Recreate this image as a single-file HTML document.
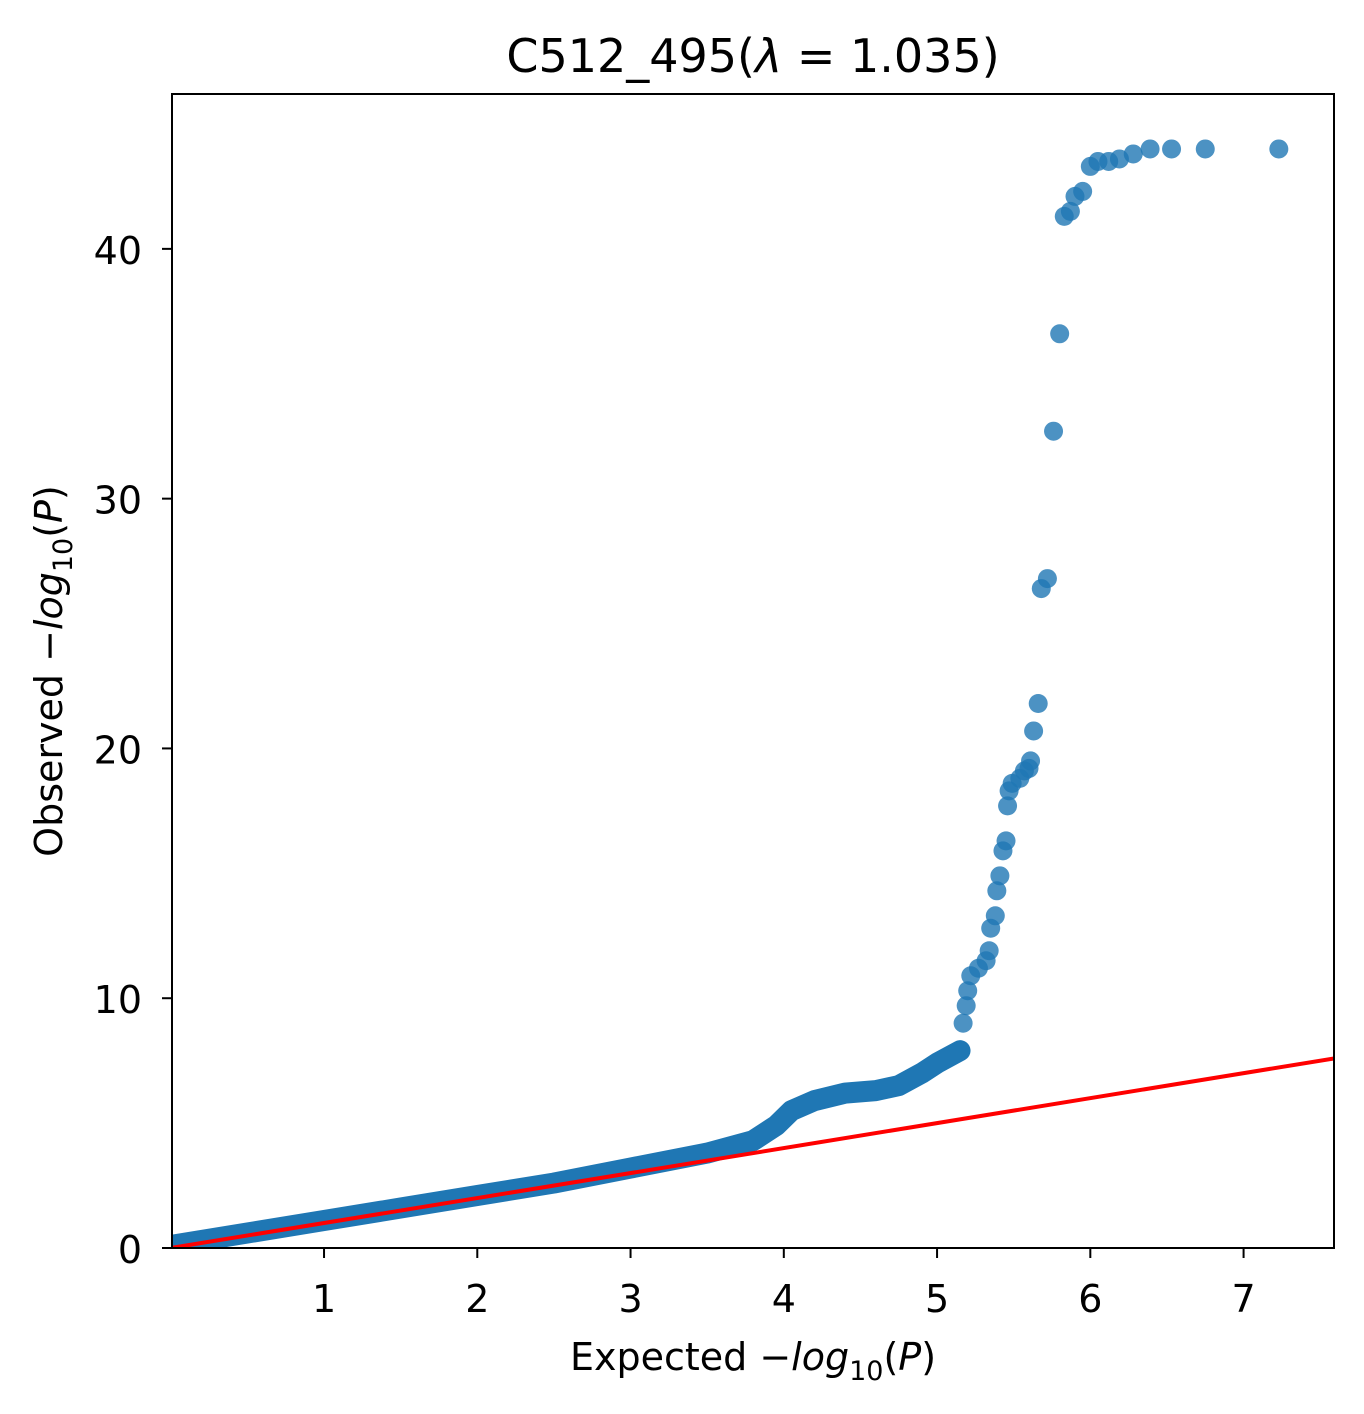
<!DOCTYPE html>
<html><head><meta charset="utf-8"><style>
body{margin:0;background:#fff;}
svg text{font-family:"DejaVu Sans","Liberation Sans",sans-serif;fill:#000;}
</style></head><body>
<svg width="1364" height="1409" xmlns="http://www.w3.org/2000/svg">
<defs><clipPath id="pa"><rect x="172" y="94" width="1162" height="1154"/></clipPath></defs>
<rect width="1364" height="1409" fill="#fff"/>
<text x="753" y="72" font-size="46" text-anchor="middle">C512_495(<tspan font-style="italic">λ</tspan> = 1.035)</text>
<g id="plot" clip-path="url(#pa)"></g>
<rect x="172" y="94" width="1162" height="1154" fill="none" stroke="#000" stroke-width="2"/>
<g id="axes"></g>
<text x="753" y="1370" font-size="38" text-anchor="middle">Expected −<tspan font-style="italic">log</tspan><tspan font-size="27" dy="10">10</tspan><tspan dy="-10">(</tspan><tspan font-style="italic">P</tspan>)</text>
<text transform="translate(62,671) rotate(-90)" font-size="38" text-anchor="middle">Observed −<tspan font-style="italic">log</tspan><tspan font-size="27" dy="10">10</tspan><tspan dy="-10">(</tspan><tspan font-style="italic">P</tspan>)</text>
</svg>
<script>
const denseX=[0,0.5,1,1.5,2,2.5,3,3.5,3.8,3.95,4.05,4.2,4.4,4.6,4.75,4.9,5.0,5.15];
const denseY=[0.1,0.6,1.1,1.6,2.1,2.6,3.2,3.8,4.3,4.9,5.5,5.9,6.2,6.3,6.5,7.0,7.4,7.9];
const tailX=[5.17,5.19,5.2,5.22,5.27,5.32,5.34,5.35,5.38,5.39,5.41,5.43,5.45,5.46,5.47,5.49,5.54,5.57,5.6,5.61,5.63,5.66,5.68,5.72,5.76,5.8,5.83,5.87,5.9,5.95,6.0,6.05,6.12,6.19,6.28,6.39,6.53,6.75,7.23];
const tailY=[9.0,9.7,10.3,10.9,11.2,11.5,11.9,12.8,13.3,14.3,14.9,15.9,16.3,17.7,18.3,18.6,18.8,19.1,19.2,19.5,20.7,21.8,26.4,26.8,32.7,36.6,41.3,41.5,42.1,42.3,43.3,43.5,43.5,43.6,43.8,44.0,44.0,44.0,44.0];
const xTicks=[1,2,3,4,5,6,7];
const yTicks=[0,10,20,30,40];
const xMin=0.008,xMax=7.59,yMin=0,yMax=46.2;
const L=172,R=1334,T=94,B=1248;
const sx=v=>L+(v-xMin)/(xMax-xMin)*(R-L);
const sy=v=>B-(v-yMin)/(yMax-yMin)*(B-T);
const NS="http://www.w3.org/2000/svg";
const plot=document.getElementById('plot'),axes=document.getElementById('axes');
function mk(t,a,p){const e=document.createElementNS(NS,t);for(const k in a)e.setAttribute(k,a[k]);p.appendChild(e);return e;}
const band=mk('polyline',{points:denseX.map((x,i)=>sx(x)+','+sy(denseY[i])).join(' '),fill:'none',stroke:'#1f77b4','stroke-width':21,'stroke-linecap':'round','stroke-linejoin':'round'},plot);


tailX.forEach((x,i)=>{const c=mk('circle',{cx:sx(x),cy:sy(tailY[i]),r:9.5,fill:'#1f77b4','fill-opacity':0.8},plot);

});
const ln=mk('line',{x1:sx(0),y1:sy(0),x2:sx(xMax),y2:sy(xMax),stroke:'#ff0000','stroke-width':4},plot);


xTicks.forEach(v=>{const x=sx(v);mk('line',{x1:x,y1:B,x2:x,y2:B+10,stroke:'#000','stroke-width':2},axes);
const t=mk('text',{x:x,y:B+64,'font-size':38,'text-anchor':'middle'},axes);t.textContent=v;

});
yTicks.forEach(v=>{const y=sy(v);mk('line',{x1:L-10,y1:y,x2:L,y2:y,stroke:'#000','stroke-width':2},axes);
const t=mk('text',{x:L-30,y:y+15,'font-size':38,'text-anchor':'end'},axes);t.textContent=v;

});
</script>
</body></html>
